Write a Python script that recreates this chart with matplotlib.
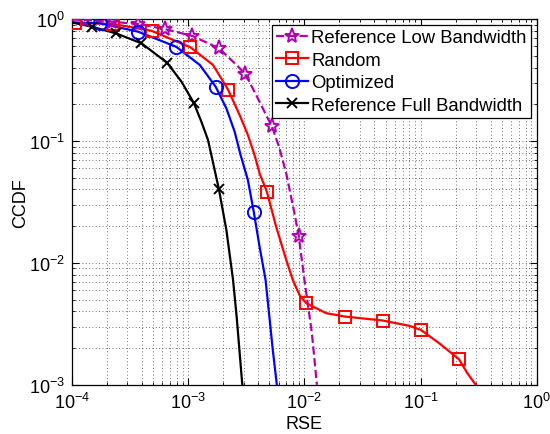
"""CCDF of the RSE for the four sampling schemes (log-log)."""

import matplotlib

matplotlib.use("Agg")
import matplotlib.pyplot as plt
from matplotlib.lines import Line2D
from matplotlib.ticker import LogLocator, NullFormatter

# Reference Full Bandwidth (black, x markers)
full_x = [1.0e-4, 1.475e-4, 2.39e-4, 3.96e-4, 6.58e-4, 8.75e-4, 1.114e-3, 1.297e-3, 1.479e-3, 1.58e-3,
          1.836e-3, 2.13e-3, 2.43e-3, 2.61e-3, 2.92e-3]
full_y = [0.936, 0.865, 0.763, 0.632, 0.438, 0.306, 0.206, 0.144, 0.102, 0.0768,
          0.0402, 0.0186, 7.26e-3, 3.63e-3, 1.0e-3]
full_mx = [1.475e-4, 2.39e-4, 3.96e-4, 6.58e-4, 1.114e-3, 1.836e-3]
full_my = [0.865, 0.763, 0.632, 0.438, 0.206, 0.0402]

# Optimized (blue, circles)
opt_x = [1.0e-4, 1.74e-4, 3.71e-4, 7.92e-4, 1.257e-3, 1.72e-3, 2.13e-3, 2.51e-3, 2.82e-3, 3.26e-3,
         3.67e-3, 4.11e-3, 4.63e-3, 5.34e-3, 5.79e-3]
opt_y = [0.936, 0.922, 0.787, 0.59, 0.420, 0.279, 0.185, 0.119, 0.0768, 0.0479,
         0.0260, 0.0136, 7.26e-3, 1.94e-3, 1.0e-3]
opt_mx = [1.74e-4, 3.71e-4, 7.92e-4, 1.72e-3, 3.67e-3]
opt_my = [0.922, 0.787, 0.59, 0.279, 0.0260]

# Random (red, squares)
rand_x = [1.0e-4, 1.06e-4, 2.26e-4, 4.83e-4, 1.045e-3, 1.633e-3, 2.20e-3, 2.77e-3, 3.26e-3, 3.72e-3,
          4.11e-3, 4.75e-3, 5.71e-3, 6.97e-3, 7.94e-3, 9.06e-3, 1.035e-2, 1.54e-2, 2.23e-2, 4.70e-2,
          7.96e-2, 0.1004, 0.144, 0.214, 0.252, 0.298]
rand_y = [0.945, 0.933, 0.910, 0.80, 0.586, 0.420, 0.264, 0.163, 0.112, 0.0768,
          0.0543, 0.0384, 0.0198, 0.0106, 7.26e-3, 5.47e-3, 4.67e-3, 3.87e-3, 3.63e-3, 3.37e-3,
          3.05e-3, 2.82e-3, 2.20e-3, 1.62e-3, 1.25e-3, 1.0e-3]
rand_mx = [1.06e-4, 2.26e-4, 4.83e-4, 1.045e-3, 2.20e-3, 4.75e-3, 1.035e-2, 2.23e-2, 4.70e-2, 0.1004, 0.214]
rand_my = [0.933, 0.910, 0.80, 0.586, 0.264, 0.0384, 4.67e-3, 3.63e-3, 3.37e-3, 2.82e-3, 1.62e-3]

# Reference Low Bandwidth (magenta, dashed, stars)
low_x = [1.0e-4, 1.29e-4, 2.19e-4, 3.71e-4, 6.28e-4, 1.086e-3, 1.84e-3, 2.60e-3, 3.10e-3, 3.97e-3,
         4.84e-3, 5.24e-3, 6.10e-3, 6.97e-3, 8.21e-3, 8.93e-3, 1.0e-2, 1.16e-2, 1.28e-2]
low_y = [0.99, 0.981, 0.950, 0.910, 0.828, 0.726, 0.575, 0.420, 0.354, 0.224,
         0.153, 0.133, 0.0871, 0.0543, 0.0255, 0.0167, 7.26e-3, 2.65e-3, 1.0e-3]
low_mx = [1.29e-4, 2.19e-4, 3.71e-4, 6.28e-4, 1.086e-3, 1.84e-3, 3.10e-3, 5.24e-3, 8.93e-3]
low_my = [0.981, 0.950, 0.910, 0.828, 0.726, 0.575, 0.354, 0.133, 0.0167]

MAGENTA = "#b000b0"

plt.rcParams["font.family"] = ["Liberation Sans", "DejaVu Sans"]
plt.rcParams["mathtext.fontset"] = "custom"
plt.rcParams["mathtext.rm"] = "Liberation Sans"
plt.rcParams["mathtext.it"] = "Liberation Sans:italic"
plt.rcParams["mathtext.bf"] = "Liberation Sans:bold"

fig = plt.figure(figsize=(5.5, 4.35), dpi=100)
ax = fig.add_axes([0.131, 0.113, 0.845, 0.841])

series = [
    (low_x, low_y, low_mx, low_my, MAGENTA, "--", "*", 11, "Reference Low Bandwidth"),
    (rand_x, rand_y, rand_mx, rand_my, "red", "-", "s", 8.5, "Random"),
    (opt_x, opt_y, opt_mx, opt_my, "blue", "-", "o", 9.5, "Optimized"),
    (full_x, full_y, full_mx, full_my, "black", "-", "x", 7, "Reference Full Bandwidth"),
]

handles = []
for x, y, mx, my, color, ls, marker, ms, label in series:
    ax.plot(x, y, color=color, linestyle=ls, linewidth=1.6, zorder=3)
    ax.plot(mx, my, linestyle="none", marker=marker, markersize=ms, markerfacecolor="none",
            markeredgecolor=color, markeredgewidth=1.4, zorder=4)
    handles.append(Line2D([], [], color=color, linestyle=ls, linewidth=1.6, marker=marker,
                          markersize=ms, markerfacecolor="none", markeredgecolor=color,
                          markeredgewidth=1.4, label=label))

ax.set_xscale("log")
ax.set_yscale("log")
ax.set_xlim(1e-4, 1e0)
ax.set_ylim(1e-3, 1e0)
ax.xaxis.set_major_locator(LogLocator(base=10, numticks=10))
ax.yaxis.set_major_locator(LogLocator(base=10, numticks=10))
ax.xaxis.set_minor_locator(LogLocator(base=10, subs=range(2, 10), numticks=10))
ax.yaxis.set_minor_locator(LogLocator(base=10, subs=range(2, 10), numticks=10))
ax.xaxis.set_minor_formatter(NullFormatter())
ax.yaxis.set_minor_formatter(NullFormatter())

ax.grid(True, which="both", color="#404040", linestyle=(0, (1, 3)), linewidth=0.6)
ax.tick_params(which="both", direction="in", top=True, right=True, labelsize=13, pad=5)
ax.tick_params(which="major", length=5)
ax.tick_params(which="minor", length=2.5)
for spine in ax.spines.values():
    spine.set_linewidth(0.9)

ax.set_xlabel("RSE", fontsize=13, labelpad=2)
ax.set_ylabel("CCDF", fontsize=13, labelpad=0)

leg = ax.legend(handles=handles, loc="upper right", fontsize=13.3, numpoints=1, handlelength=1.7,
                handletextpad=0.2, labelspacing=0.3, borderpad=0.25, borderaxespad=0.3,
                fancybox=False, framealpha=1, edgecolor="black")
leg.get_frame().set_linewidth(0.9)

fig.savefig("out.png", dpi=100)
